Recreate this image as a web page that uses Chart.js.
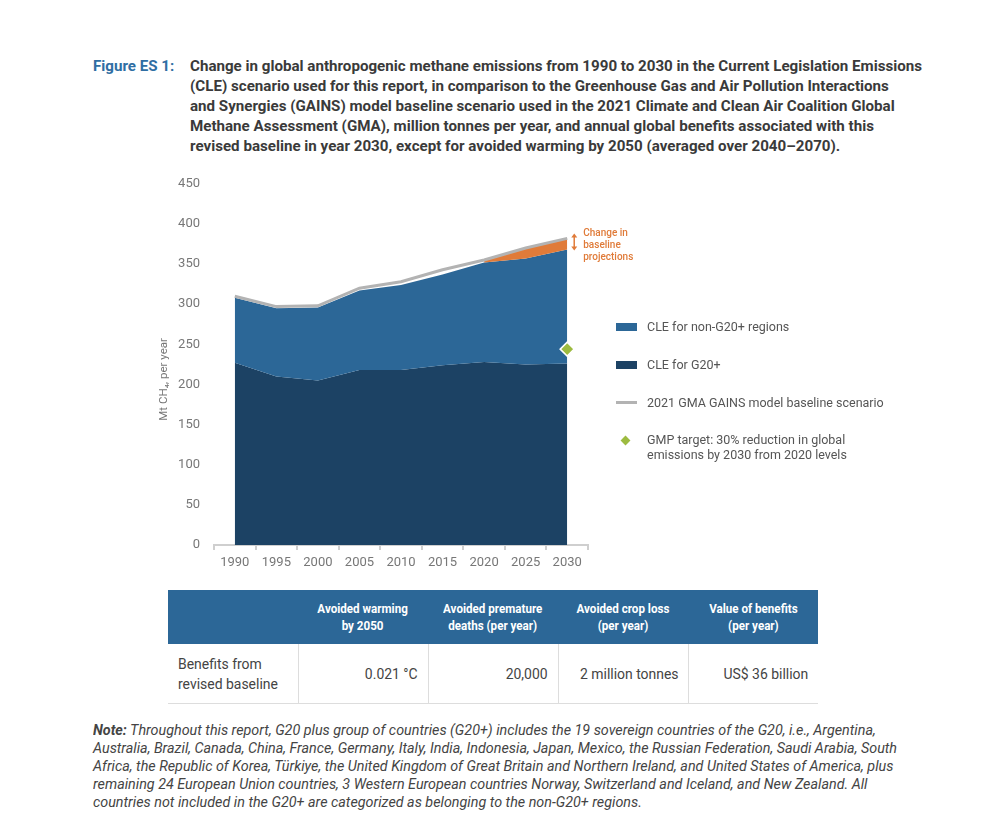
<!DOCTYPE html>
<html>
<head>
<meta charset="utf-8">
<script src="https://cdn.jsdelivr.net/npm/chart.js@4"></script>
<style>
  body { margin: 0; width: 1000px; height: 828px; background: #fff; position: relative; font-family: Roboto, sans-serif; overflow: hidden; }
  .abs { position: absolute; }
  .line { white-space: nowrap; transform-origin: left top; }
  #figLabel { left: 93px; top: 56px; font-weight: 700; font-size: 15px; line-height: 20px; color: #2f6ea3; }
  #title { left: 190px; top: 56px; font-weight: 700; font-size: 15px; line-height: 20px; color: #3a3a3a; }
  #note { left: 93px; top: 722px; font-style: italic; font-size: 14.5px; line-height: 18px; color: #444; }
  #chartBox { left: 140px; top: 170px; width: 500px; height: 412px; }
  .leg { font-size: 12.5px; color: #555; line-height: 15px; }
  .leg .abs { white-space: nowrap; }
  .sw { position: absolute; width: 21px; height: 8px; }
  table { border-collapse: collapse; left: 168px; top: 590px; width: 650px; table-layout: fixed; }
  th { background: #2c6797; color: #fff; font-weight: 700; font-size: 13.5px; line-height: 17px; height: 54px; padding: 0; text-align: center; }
  td { height: 59px; font-size: 15.5px; line-height: 20px; color: #444; padding: 0 10px; border-bottom: 1.5px solid #ddd; text-align: right; }
  td + td { border-left: 1.5px solid #ddd; }
  .c { display: inline-block; white-space: nowrap; transform: scaleX(0.86); }
  td .c { transform: scaleX(0.9); }
  th .c { transform-origin: center; }
  td .c { transform-origin: right center; }
  td.first { text-align: left; }
  td.first .c { transform-origin: left center; }
</style>
</head>
<body>
<div id="figLabel" class="abs"><span class="line" style="display:inline-block">Figure ES 1:</span></div>
<div id="title" class="abs">
  <div class="line">Change in global anthropogenic methane emissions from 1990 to 2030 in the Current Legislation Emissions</div>
  <div class="line">(CLE) scenario used for this report, in comparison to the Greenhouse Gas and Air Pollution Interactions</div>
  <div class="line">and Synergies (GAINS) model baseline scenario used in the 2021 Climate and Clean Air Coalition Global</div>
  <div class="line">Methane Assessment (GMA), million tonnes per year, and annual global benefits associated with this</div>
  <div class="line">revised baseline in year 2030, except for avoided warming by 2050 (averaged over 2040–2070).</div>
</div>

<div id="chartBox" class="abs"><canvas id="methaneChart" width="500" height="412"></canvas></div>

<div class="abs leg" style="left:0;top:0;">
  <div class="sw" style="left:616px;top:323px;background:#2c6797;"></div>
  <div class="abs" style="left:647px;top:319px;">CLE for non-G20+ regions</div>
  <div class="sw" style="left:616px;top:361px;background:#1c4264;"></div>
  <div class="abs" style="left:647px;top:357px;">CLE for G20+</div>
  <div class="sw" style="left:616px;top:401px;height:3px;background:#b3b3b3;"></div>
  <div class="abs" style="left:647px;top:395px;">2021 GMA GAINS model baseline scenario</div>
  <div class="abs" style="left:622px;top:437px;width:7px;height:7px;background:#9dbb40;transform:rotate(45deg);"></div>
  <div class="abs" style="left:647px;top:432px;">GMP target: 30% reduction in global<br>emissions by 2030 from 2020 levels</div>
</div>

<table class="abs">
  <tr>
    <th></th>
    <th><span class="c">Avoided warming<br>by 2050</span></th>
    <th><span class="c">Avoided premature<br>deaths (per year)</span></th>
    <th><span class="c">Avoided crop loss<br>(per year)</span></th>
    <th><span class="c">Value of benefits<br>(per year)</span></th>
  </tr>
  <tr>
    <td class="first"><span class="c">Benefits from<br>revised baseline</span></td>
    <td><span class="c">0.021 °C</span></td>
    <td><span class="c">20,000</span></td>
    <td><span class="c">2 million tonnes</span></td>
    <td><span class="c">US$ 36 billion</span></td>
  </tr>
</table>

<div id="note" class="abs">
  <div class="line"><b>Note:</b> Throughout this report, G20 plus group of countries (G20+) includes the 19 sovereign countries of the G20, i.e., Argentina,</div>
  <div class="line">Australia, Brazil, Canada, China, France, Germany, Italy, India, Indonesia, Japan, Mexico, the Russian Federation, Saudi Arabia, South</div>
  <div class="line">Africa, the Republic of Korea, Türkiye, the United Kingdom of Great Britain and Northern Ireland, and United States of America, plus</div>
  <div class="line">remaining 24 European Union countries, 3 Western European countries Norway, Switzerland and Iceland, and New Zealand. All</div>
  <div class="line">countries not included in the G20+ are categorized as belonging to the non-G20+ regions.</div>
</div>

<script>
// data (Mt CH4 per year)
const years = ['1990', '1995', '2000', '2005', '2010', '2015', '2020', '2025', '2030'];
const g20Plus = [227, 210, 205, 218, 218, 224, 228, 225, 226];
const nonG20Plus = [81, 85, 91, 99, 106, 113, 124, 132, 142];
const gmaBaseline = [310, 297, 298, 320, 328, 343, 355, 370, 382];
const revisedFrom = '2020';
const gmpTargetYear = '2030';
const gmpTarget = 244;

// squeeze text blocks the way the condensed font in the original does
function fitBlock(id, refLine, targetWidth) {
  const lines = document.querySelectorAll('#' + id + ' .line');
  lines.forEach(l => l.style.display = 'inline-block');
  const w = lines[refLine].getBoundingClientRect().width;
  const s = targetWidth / w;
  lines.forEach(l => { l.style.transform = 'scaleX(' + s + ')'; l.style.display = 'block'; l.style.width = 'max-content'; });
  return s;
}
const titleScale = fitBlock('title', 0, 732);
document.querySelector('#figLabel .line').style.transform = 'scaleX(' + titleScale + ')';
document.querySelector('#figLabel .line').style.transformOrigin = 'left top';
fitBlock('note', 1, 804);

const cleTotal = g20Plus.map((v, i) => v + nonG20Plus[i]);
const startIdx = years.indexOf(revisedFrom);
const changeBand = gmaBaseline.map((v, i) => i >= startIdx ? v : null);

const annotate = {
  id: 'annotate',
  afterDatasetsDraw(chart) {
    const ctx = chart.ctx;
    const x = chart.scales.x, y = chart.scales.y;
    const last = years.length - 1;
    const px = x.getPixelForValue(last) + 7;
    const yTop = y.getPixelForValue(gmaBaseline[last]) - 5;
    const yBot = y.getPixelForValue(cleTotal[last]) + 1;
    ctx.save();
    ctx.strokeStyle = '#e07b39';
    ctx.fillStyle = '#e07b39';
    ctx.lineWidth = 1.5;
    ctx.beginPath(); ctx.moveTo(px, yTop + 3); ctx.lineTo(px, yBot - 3); ctx.stroke();
    ctx.beginPath(); ctx.moveTo(px - 3, yTop + 4); ctx.lineTo(px, yTop); ctx.lineTo(px + 3, yTop + 4); ctx.fill();
    ctx.beginPath(); ctx.moveTo(px - 3, yBot - 4); ctx.lineTo(px, yBot); ctx.lineTo(px + 3, yBot - 4); ctx.fill();
    ctx.font = '500 10px Roboto';
    ctx.textBaseline = 'middle';
    ['Change in', 'baseline', 'projections'].forEach((t, i) => ctx.fillText(t, px + 9, yTop + i * 12));
    // y axis title
    ctx.fillStyle = '#777';
    ctx.font = '11.5px Roboto';
    ctx.translate(chart.chartArea.left - 50, (chart.chartArea.top + chart.chartArea.bottom) / 2 + 15);
    ctx.rotate(-Math.PI / 2);
    ctx.textAlign = 'center';
    ctx.fillText('Mt CH\u2084, per year', 0, 0);
    ctx.restore();
  }
};

const ctx = document.getElementById('methaneChart').getContext('2d');
const methaneChart = new Chart(ctx, {
  type: 'line',
  data: {
    labels: years,
    datasets: [
      {
        label: 'GMP target',
        data: [{ x: gmpTargetYear, y: gmpTarget }],
        showLine: false,
        pointStyle: 'rectRot',
        pointRadius: 7,
        pointBackgroundColor: '#9dbb40',
        pointBorderColor: '#fff',
        pointBorderWidth: 1.5,
        order: 0
      },
      {
        label: '2021 GMA GAINS model baseline scenario',
        data: gmaBaseline,
        borderColor: '#b3b3b3',
        borderWidth: 3,
        pointRadius: 0,
        fill: false,
        order: 1
      },
      {
        label: 'CLE for G20+',
        data: g20Plus,
        borderWidth: 0,
        pointRadius: 0,
        backgroundColor: '#1c4264',
        fill: 'origin',
        order: 4
      },
      {
        label: 'CLE for non-G20+ regions',
        data: cleTotal,
        borderWidth: 0,
        pointRadius: 0,
        backgroundColor: '#2c6797',
        fill: '-1',
        order: 3
      },
      {
        label: 'Change in baseline projections',
        data: changeBand,
        borderWidth: 0,
        pointRadius: 0,
        backgroundColor: '#e07b39',
        fill: '-1',
        order: 2
      }
    ]
  },
  options: {
    responsive: false,
    animation: false,
    layout: { padding: { left: 0, right: 52, top: 5, bottom: 0 } },
    plugins: { legend: { display: false }, tooltip: { enabled: false } },
    elements: { line: { tension: 0 } },
    scales: {
      x: {
        offset: true,
        grid: { offset: true, drawOnChartArea: false, tickLength: 5, color: '#cfcfcf', lineWidth: 2 },
        border: { color: '#cfcfcf', width: 2 },
        ticks: { color: '#777', font: { family: 'Roboto', size: 13 }, padding: 5, maxRotation: 0 },
        afterFit: s => { s.height = 37; }
      },
      y: {
        min: 0,
        max: 450,
        grid: { display: false },
        border: { display: false },
        ticks: { stepSize: 50, color: '#777', font: { family: 'Roboto', size: 13 }, padding: 6 },
        afterFit: s => { s.width = 74; }
      }
    }
  },
  plugins: [annotate]
});
</script>
</body>
</html>
